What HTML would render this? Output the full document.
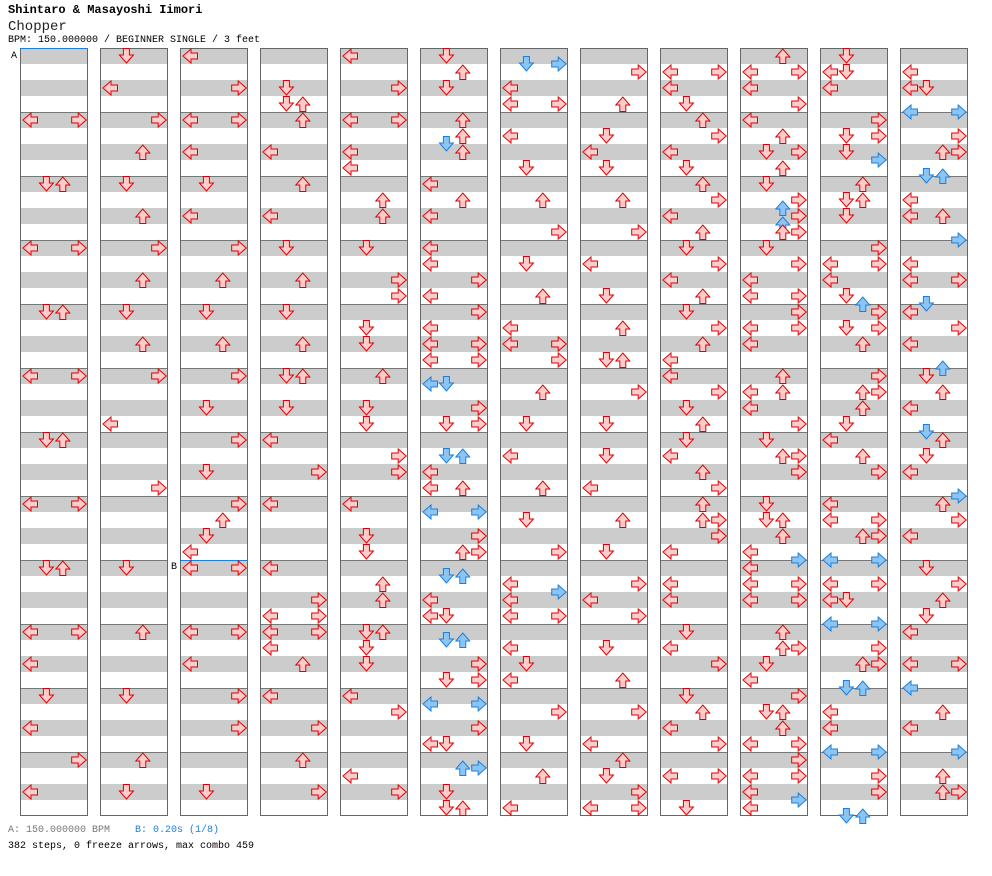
<!DOCTYPE html>
<html><head><meta charset="utf-8"><style>
body{margin:0;background:#fff;width:992px;height:876px;overflow:hidden;position:relative;font-family:"Liberation Mono",monospace}
.t{position:absolute;white-space:nowrap}
</style></head><body>
<div class="t" style="left:8px;top:3px;font-size:12px;font-weight:bold">Shintaro &amp; Masayoshi Iimori</div>
<div class="t" style="left:8px;top:19px;font-size:14px;color:#222">Chopper</div>
<div class="t" style="left:8px;top:35px;font-size:10px">BPM: 150.000000 / BEGINNER SINGLE / 3 feet</div>
<div class="t" style="left:8px;top:825px;font-size:10px;color:#777">A: 150.000000 BPM</div>
<div class="t" style="left:135px;top:825px;font-size:10px;color:#1a7fe0">B: 0.20s (1/8)</div>
<div class="t" style="left:8px;top:841px;font-size:10px">382 steps, 0 freeze arrows, max combo 459</div>
<svg id="c" width="992" height="876" style="position:absolute;left:0;top:0"></svg>
<script>
const colCount=12, measuresPerCol=12;
const notes=[
"0:8:LR","0:16:DU","0:24:LR","0:32:DU","0:40:LR","0:48:DU","0:56:LR","0:64:DU","0:72:LR","0:76:L","0:80:D","0:84:L","0:88:R","0:92:L",
"1:0:D","1:4:L","1:8:R","1:12:U","1:16:D","1:20:U","1:24:R","1:28:U","1:32:D","1:36:U","1:40:R","1:46:L","1:54:R","1:64:D","1:72:U","1:80:D","1:88:U","1:92:D",
"2:0:L","2:4:R","2:8:LR","2:12:L","2:16:D","2:20:L","2:24:R","2:28:U","2:32:D","2:36:U","2:40:R","2:44:D","2:48:R","2:52:D","2:56:R","2:58:U","2:60:D","2:62:L","2:64:LR","2:72:LR","2:76:L","2:80:R","2:84:R","2:92:D",
"3:4:D","3:6:DU","3:8:U","3:12:L","3:16:U","3:20:L","3:24:D","3:28:U","3:32:D","3:36:U","3:40:DU","3:44:D","3:48:L","3:52:R","3:56:L","3:64:L","3:68:R","3:70:LR","3:72:LR","3:74:L","3:76:U","3:80:L","3:84:R","3:88:U","3:92:R",
"4:0:L","4:4:R","4:8:LR","4:12:L","4:14:L","4:18:U","4:20:U","4:24:D","4:28:R","4:30:R","4:34:D","4:36:D","4:40:U","4:44:D","4:46:D","4:50:R","4:52:R","4:56:L","4:60:D","4:62:D","4:66:U","4:68:U","4:72:DU","4:74:D","4:76:D","4:80:L","4:82:R","4:90:L","4:92:R",
"5:0:D","5:2:U","5:4:D","5:8:U","5:10:U","5:11:d","5:12:U","5:16:L","5:18:U","5:20:L","5:24:L","5:26:L","5:28:R","5:30:L","5:32:R","5:34:L","5:36:LR","5:38:LR","5:41:ld","5:44:R","5:46:DR","5:50:du","5:52:L","5:54:LU","5:57:lr","5:60:R","5:62:UR","5:65:du","5:68:L","5:70:LD","5:73:du","5:76:R","5:78:DR","5:81:lr","5:84:R","5:86:LD","5:89:ur","5:92:D","5:94:DU",
"6:1:dr","6:4:L","6:6:LR","6:10:L","6:14:D","6:18:U","6:22:R","6:26:D","6:30:U","6:34:L","6:36:LR","6:38:R","6:42:U","6:46:D","6:50:L","6:54:U","6:58:D","6:62:R","6:66:L","6:67:r","6:68:L","6:70:LR","6:74:L","6:76:D","6:78:L","6:82:R","6:86:D","6:90:U","6:94:L",
"7:2:R","7:6:U","7:10:D","7:12:L","7:14:D","7:18:U","7:22:R","7:26:L","7:30:D","7:34:U","7:38:DU","7:42:R","7:46:D","7:50:D","7:54:L","7:58:U","7:62:D","7:66:R","7:68:L","7:70:R","7:74:D","7:78:U","7:82:R","7:86:L","7:88:U","7:90:D","7:92:R","7:94:LR",
"8:2:LR","8:4:L","8:6:D","8:8:U","8:10:R","8:12:L","8:14:D","8:16:U","8:18:R","8:20:L","8:22:U","8:24:D","8:26:R","8:28:L","8:30:U","8:32:D","8:34:R","8:36:U","8:38:L","8:40:L","8:42:R","8:44:D","8:46:U","8:48:D","8:50:L","8:52:U","8:54:R","8:56:U","8:58:UR","8:60:R","8:62:L","8:66:L","8:68:L","8:72:D","8:74:L","8:76:R","8:80:D","8:82:U","8:84:L","8:86:R","8:90:LR","8:94:D",
"9:0:U","9:2:LR","9:4:L","9:6:R","9:8:L","9:10:U","9:12:DR","9:14:U","9:16:D","9:18:R","9:19:u","9:20:R","9:21:u","9:22:UR","9:24:D","9:26:R","9:28:L","9:30:LR","9:32:R","9:34:LR","9:36:L","9:40:U","9:42:LU","9:44:L","9:46:R","9:48:D","9:50:UR","9:52:R","9:56:D","9:58:DU","9:60:U","9:62:L","9:63:r","9:64:L","9:66:LR","9:68:LR","9:72:U","9:74:UR","9:76:D","9:78:L","9:80:R","9:82:DU","9:84:U","9:86:LR","9:88:R","9:90:LR","9:92:L","9:93:r","9:94:L",
"10:0:D","10:2:LD","10:4:L","10:8:R","10:10:DR","10:12:D","10:13:r","10:16:U","10:18:DU","10:20:D","10:24:R","10:26:LR","10:28:L","10:30:D","10:31:u","10:32:R","10:34:DR","10:36:U","10:40:R","10:42:UR","10:44:U","10:46:D","10:48:L","10:50:U","10:52:R","10:56:L","10:58:LR","10:60:UR","10:63:lr","10:66:LR","10:68:LD","10:71:lr","10:74:R","10:76:UR","10:79:du","10:82:L","10:84:L","10:87:lr","10:90:R","10:92:R","10:95:du",
"11:2:L","11:4:LD","11:7:lr","11:10:R","11:12:UR","11:15:du","11:18:L","11:20:LU","11:23:r","11:26:L","11:28:LR","11:31:d","11:32:L","11:34:R","11:36:L","11:39:u","11:40:D","11:42:U","11:44:L","11:47:d","11:48:U","11:50:D","11:52:L","11:55:r","11:56:U","11:58:R","11:60:L","11:64:D","11:66:R","11:68:U","11:70:D","11:72:L","11:76:LR","11:79:l","11:82:U","11:84:L","11:87:r","11:90:U","11:92:UR"
];
const laneNames="LDUR";
const NS="http://www.w3.org/2000/svg";
const svg=document.getElementById('c');
const X0=20,Y0=48,COLW=68,COLSTEP=80,MH=64,ROW=8;
function colX(c){return X0+c*COLSTEP;}
function rowY(r){return Y0+r*ROW;}
function laneX(c,l){return colX(c)+2+l*16.4;}
function mk(tag,attrs){const e=document.createElementNS(NS,tag);for(const k in attrs)e.setAttribute(k,attrs[k]);svg.appendChild(e);return e;}
for(let c=0;c<colCount;c++){
  for(let m=0;m<measuresPerCol*2;m++){
    const s=mk('rect',{x:colX(c),y:Y0+m*32,width:COLW,height:16,fill:'#cccccc'});
    
    
  }
  for(let m=1;m<measuresPerCol;m++){
    const l=mk('line',{x1:colX(c),x2:colX(c)+COLW,y1:Y0+m*MH+0.5,y2:Y0+m*MH+0.5,stroke:'#777','stroke-width':1});
    
    
  }
  const b=mk('rect',{x:colX(c)+0.5,y:Y0+0.5,width:COLW-1,height:MH*measuresPerCol-1,fill:'none',stroke:'#666','stroke-width':1});
  
  
}
// markers
const la=mk('line',{x1:20,x2:88,y1:48.5,y2:48.5,stroke:'#1a7fe0'});


const ta=mk('text',{x:11,y:58,'font-size':10,'font-family':'Liberation Mono, monospace'});ta.textContent='A';


const lb=mk('line',{x1:180,x2:248,y1:560.5,y2:560.5,stroke:'#1a7fe0'});


const tb=mk('text',{x:171,y:569,'font-size':10,'font-family':'Liberation Mono, monospace'});tb.textContent='B';


const rot={L:90,D:0,U:180,R:270};
const ARROW='M5,0.5 H11 V7 H15 L8,15 L1,7 H5 Z';
notes.forEach(n=>{
  const [c,r,ls]=n.split(':');
  for(const ch of ls){
    const up=ch.toUpperCase(), blue=ch!==up, l=laneNames.indexOf(up);
    const x=laneX(+c,l), y=rowY(+r);
    const p=mk('path',{d:ARROW,fill:blue?'#8cc4f4':'#ffcccc',stroke:blue?'#1a7fe0':'#e00000','stroke-width':1,
      transform:`translate(${x},${y}) rotate(${rot[up]} 8 8)`});
    
    
  }
});
</script>
</body></html>
